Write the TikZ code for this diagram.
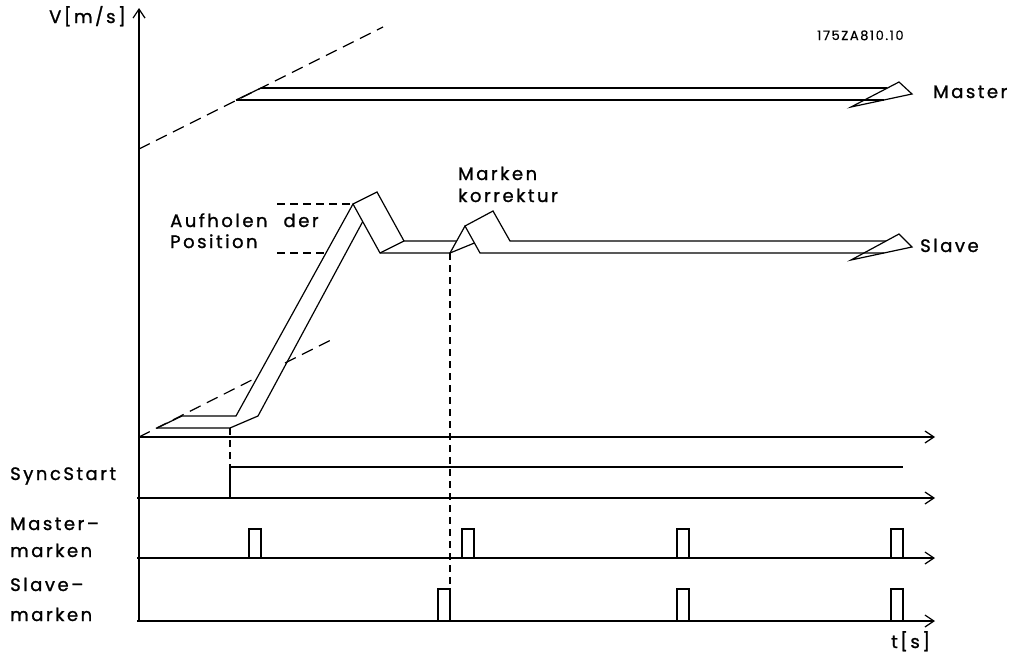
\documentclass[tikz,border=0pt]{standalone}
\usepackage{fontspec}
\setmainfont{Poppins}[LetterSpace=14,FakeBold=1.2]
\newfontfamily\smallfont{Poppins}[LetterSpace=12,FakeBold=0.6]
\usetikzlibrary{arrows.meta}
\tikzset{
  ln/.style={line width=1.2pt, line join=miter},
  axis/.style={ln, -{Straight Barb[length=9pt,width=12pt,line width=1.2pt]}},
  longdash/.style={ln, dash pattern=on 12pt off 7pt},
  shortdash/.style={ln, dash pattern=on 7pt off 5pt},
  lbl/.style={anchor=base west, inner sep=0pt, font=\fontsize{18}{21}\selectfont},
  pulse/.style={ln}
}
\begin{document}
\begin{tikzpicture}[x=1pt,y=-1pt]
\useasboundingbox (0,0) rectangle (1017,656);
% axes
\coordinate (O) at (139,437);
\coordinate (Vtop) at (139,8);
\coordinate (Vbot) at (139,621);
\draw[axis] (Vbot) -- (Vtop);
\draw[axis] (O) -- (935,437);
\draw[axis] (137,498) -- (935,498);
\draw[axis] (137,558) -- (935,558);
\draw[axis] (137,621) -- (935,621);

% Master band
\coordinate (md0) at (139,149);
\coordinate (md1) at (383,27);
\coordinate (mb) at (236,100);
\coordinate (mt) at (261,88);
\draw[longdash] (md0) -- (md1);
\draw[ln] (mb) -- (mt);
\draw[ln] (mt) -- (887,88);
\draw[ln] (mb) -- (884,100);
\draw[ln] (851,107) -- (899,82) -- (912,94) -- cycle;

% Slave start
\draw[longdash] (O) -- (257,377.4);
\draw[longdash] (285,363) -- (335,338);
\draw[ln] (157,428) -- (182,416);
\draw[ln] (157,428) -- (230,428) -- (258,416) -- (362.5,222);
\draw[ln] (182,416) -- (236,416) -- (353,204) -- (380,253) -- (450,253) -- (465,226) -- (480,253) -- (884,253);
\draw[ln] (353,204) -- (377,192) -- (404,241) -- (456.7,241);
\draw[ln] (465,226) -- (493,211) -- (510,241) -- (886,241);
\draw[ln] (380,253) -- (404,241);
\draw[ln] (450,253) -- (474.4,243);
\draw[ln] (851,260) -- (899,234) -- (912,247) -- cycle;

% dashed level markers
\draw[ln, dash pattern=on 8pt off 5pt] (277,204) -- (353,204);
\draw[ln, dash pattern=on 8pt off 5pt] (277,253) -- (326,253);

% SyncStart
\draw[shortdash] (230,428) -- (230,467);
\draw[ln] (230,467) -- (230,498);
\draw[ln] (230,467) -- (903,467);

% vertical dashed to slave mark
\draw[shortdash] (450,253) -- (450,589);

% Master marks
\foreach \x in {249,462,677,891}{
  \draw[pulse] (\x,558) -- (\x,529) -- ({\x+12},529) -- ({\x+12},558);
}
% Slave marks
\foreach \x in {438,677,891}{
  \draw[pulse] (\x,621) -- (\x,589) -- ({\x+12},589) -- ({\x+12},621);
}

% labels
\node[lbl] (tv) at (49,23) {V[m/s]};
\node[anchor=base west, inner sep=0pt, font=\smallfont\fontsize{13}{15}\selectfont] (tid) at (817,40) {175ZA810.10};
\node[lbl] (tmaster) at (933,98) {Master};
\node[lbl] (tauf) at (170,227) {Aufholen\hspace{16pt}der};
\node[lbl] (tpos) at (170,248) {Position};
\node[lbl] (tmark) at (458,180) {Marken};
\node[lbl] (tkorr) at (458,202) {korrektur};
\node[lbl] (tslave) at (920,252) {Slave};
\node[lbl] (tsync) at (10,480) {SyncStart};
\node[lbl] (tmm1) at (10,530) {Master–};
\node[lbl] (tmm2) at (10,557) {marken};
\node[lbl] (tsm1) at (10,591) {Slave–};
\node[lbl] (tsm2) at (10,621) {marken};
\node[lbl] (tt) at (891,648) {t[s]};
\end{tikzpicture}
\end{document}
